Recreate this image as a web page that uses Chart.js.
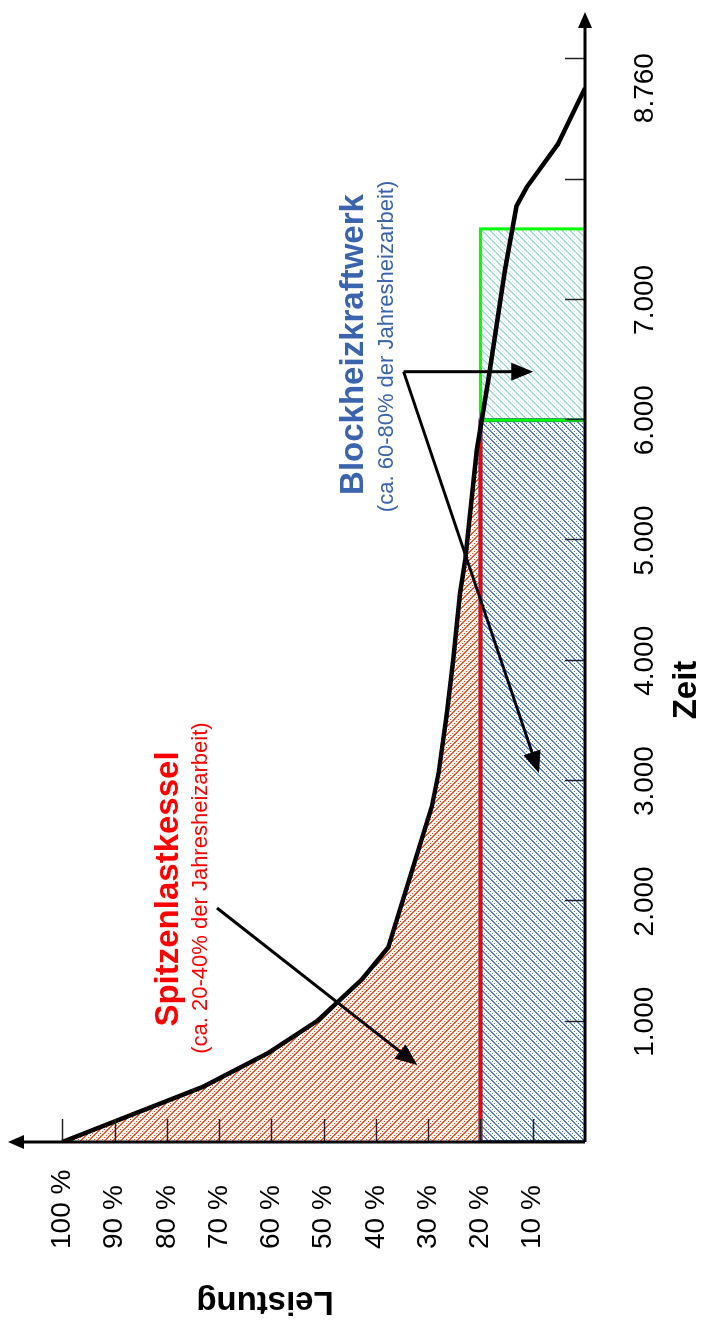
<!DOCTYPE html>
<html lang="de">
<head>
<meta charset="utf-8">
<title>Jahresdauerlinie</title>
<script src="https://cdn.jsdelivr.net/npm/chart.js@4.4.1/dist/chart.umd.min.js"></script>
<style>
  html, body { margin: 0; padding: 0; background: #fff; overflow: hidden; }
  body { width: 706px; height: 1326px; position: relative; }
  /* chart is drawn lying on its side, then turned upright */
  #wrap { position: absolute; left: 0; top: 0; width: 1326px; height: 706px;
          transform-origin: 0 0; transform: translate(0, 1326px) rotate(-90deg); }
</style>
</head>
<body>
<div id="wrap"><canvas id="chart" width="1326" height="706"></canvas></div>
<script>
// Jahresdauerlinie: Zeit (h) / Leistung (%)
const hours    = [0, 460, 740, 1010, 1350, 1620, 2790, 3070, 3570, 4010, 4560, 4840, 5750, 6330, 7250, 7780, 7940, 8300, 8760];
const leistung = [100, 73, 60.6, 51.1, 42.7, 37.6, 29.3, 28.0, 26.4, 25.2, 23.9, 22.9, 20.7, 18.5, 15.3, 13.1, 11.1, 5.1, 0];

// Grundlast-Bloecke
const grundlast = 20;        // % Leistung BHKW
const bhkwEnd = 6000;        // h (blau)
const bhkwExtraEnd = 7590;   // h (gruen)

// Achsen
const xTickLabels = [1000, 2000, 3000, 4000, 5000, 6000, 7000, 8760];
const xTickMarks  = [1000, 2000, 3000, 4000, 5000, 6000, 7000, 8000, 9000];
const yTickValues = [10, 20, 30, 40, 50, 60, 70, 80, 90, 100];

const FONT = '"Liberation Sans", Arial, sans-serif';
Chart.defaults.font.family = FONT;

const canvas = document.getElementById("chart");
const ctx0 = canvas.getContext("2d");

// diagonal hatch + dotted rows, like the office fill patterns
function hatch(stripe, dot, dir) {
  const n = 8;
  const c = document.createElement("canvas");
  c.width = c.height = n;
  const g = c.getContext("2d");
  g.fillStyle = "#fff";
  g.fillRect(0, 0, n, n);
  for (let y = 0; y < n; y++) {
    for (let x = 0; x < n; x++) {
      const d = (((dir > 0 ? x + y : x - y) % n) + n) % n;
      if (d < 2) { g.fillStyle = stripe; g.fillRect(x, y, 1, 1); }
      else if (d === 4 && x % 2 === 0) { g.fillStyle = dot; g.fillRect(x, y, 1, 1); }
    }
  }
  return ctx0.createPattern(c, "repeat");
}

const redFill   = hatch("#ff5428", "#ff3a14", -1);
const blueFill  = hatch("#5a84cc", "#4a76c0", 1);
const greenFill = hatch("#a3dacd", "#c4eae1", 1);

const fmt = (v) => String(v).replace(/\B(?=(\d{3})+(?!\d))/g, ".");

// annotations in data units
const notes = [
  { text: "Spitzenlastkessel", x: 2103, y: 77.8, font: "bold 33px " + FONT, color: "#ff0000" },
  { text: "(ca. 20-40% der Jahresheizarbeit)", x: 2111, y: 72.3, font: "22px " + FONT, color: "#ff0000" },
  { text: "Blockheizkraftwerk", x: 6629, y: 42.4, font: "bold 33px " + FONT, color: "#3a64ad" },
  { text: "(ca. 60-80% der Jahresheizarbeit)", x: 6613, y: 36.7, font: "22px " + FONT, color: "#3a64ad" }
];
const arrows = [
  { from: [1945, 70.4], to: [640, 32.1] },
  { from: [6403, 34.7], to: [6403, 9.9] },
  { from: [6403, 34.7], to: [3065, 8.8] }
];

function arrowHead(ctx, x1, y1, x2, y2, L, W) {
  const a = Math.atan2(y2 - y1, x2 - x1);
  const c = Math.cos(a), s = Math.sin(a);
  ctx.beginPath();
  ctx.moveTo(x1, y1);
  ctx.lineTo(x2 - c * L * 0.7, y2 - s * L * 0.7);
  ctx.stroke();
  ctx.beginPath();
  ctx.moveTo(x2, y2);
  ctx.lineTo(x2 - L * c + W * s, y2 - L * s - W * c);
  ctx.lineTo(x2 - L * c - W * s, y2 - L * s + W * c);
  ctx.closePath();
  ctx.fill();
}

const decor = {
  id: "decor",
  afterDatasetsDraw(chart) {
    const { ctx, chartArea: a, scales: { x, y } } = chart;
    ctx.save();

    // tick marks point into the plot
    ctx.strokeStyle = "#222";
    ctx.lineWidth = 1.5;
    xTickMarks.forEach((v) => {
      const px = Math.round(x.getPixelForValue(v)) + 0.5;
      ctx.beginPath(); ctx.moveTo(px, a.bottom); ctx.lineTo(px, a.bottom - 20); ctx.stroke();
    });
    yTickValues.forEach((v) => {
      const py = Math.round(y.getPixelForValue(v)) + 0.5;
      ctx.beginPath(); ctx.moveTo(a.left, py); ctx.lineTo(a.left + 23, py); ctx.stroke();
    });

    // axes with arrow heads
    ctx.strokeStyle = "#000";
    ctx.fillStyle = "#000";
    ctx.lineWidth = 3;
    arrowHead(ctx, a.left, a.bottom, a.right + 3, a.bottom, 16, 7);
    arrowHead(ctx, a.left, a.bottom, a.left, a.top - 2, 16, 7);

    // pointer arrows
    ctx.lineWidth = 3;
    arrows.forEach((r) => {
      arrowHead(ctx,
        x.getPixelForValue(r.from[0]), y.getPixelForValue(r.from[1]),
        x.getPixelForValue(r.to[0]), y.getPixelForValue(r.to[1]), 22, 9);
    });

    // labels
    ctx.textAlign = "center";
    ctx.textBaseline = "alphabetic";
    notes.forEach((n) => {
      ctx.font = n.font;
      ctx.fillStyle = n.color;
      ctx.fillText(n.text, x.getPixelForValue(n.x), y.getPixelForValue(n.y));
    });

    // axis titles
    ctx.fillStyle = "#000";
    ctx.font = "bold 33px " + FONT;
    ctx.fillText("Zeit", a.left + 452, a.bottom + 111);
    ctx.translate(34, 265);
    ctx.rotate(-Math.PI / 2);
    ctx.fillText("Leistung", 0, 0);

    ctx.restore();
  }
};

const pts = (xs, ys) => xs.map((v, i) => ({ x: v, y: ys[i] }));

new Chart(canvas, {
  type: "line",
  data: {
    datasets: [
      {
        label: "Jahresdauerlinie",
        data: pts(hours, leistung),
        borderColor: "#000",
        borderWidth: 4.5,
        borderJoinStyle: "round",
        pointRadius: 0,
        tension: 0,
        // Spitzenlast: area between curve and the 20 % line
        fill: { target: 1, above: redFill, below: "rgba(0,0,0,0)" }
      },
      {
        label: "Grundlastgrenze",
        data: pts([0, bhkwEnd], [grundlast, grundlast]),
        borderColor: "#ff0000",
        borderWidth: 3.5,
        pointRadius: 0,
        fill: false
      },
      {
        label: "BHKW Zusatz",
        data: pts([bhkwEnd, bhkwEnd, bhkwExtraEnd, bhkwExtraEnd], [0, grundlast, grundlast, 0]),
        borderColor: "#00ff00",
        borderWidth: 3,
        pointRadius: 0,
        fill: { target: "origin", above: greenFill }
      },
      {
        label: "BHKW",
        data: pts([0, 0, bhkwEnd, bhkwEnd], [0, grundlast, grundlast, 0]),
        borderColor: "#2f5597",
        borderWidth: 4,
        pointRadius: 0,
        fill: { target: "origin", above: blueFill }
      }
    ]
  },
  options: {
    responsive: false,
    animation: false,
    devicePixelRatio: 1,
    events: [],
    layout: { padding: { left: 77, top: 10, right: 15, bottom: 0 } },
    plugins: {
      legend: { display: false },
      tooltip: { enabled: false },
      filler: { drawTime: "beforeDatasetsDraw" }
    },
    scales: {
      x: {
        type: "linear",
        min: 0,
        max: 9368,
        grid: { display: false, drawTicks: false },
        border: { display: false },
        afterBuildTicks: (s) => { s.ticks = xTickLabels.map((v) => ({ value: v })); },
        afterFit: (s) => { s.height = 121; s.paddingLeft = 0; s.paddingRight = 0; },
        ticks: {
          autoSkip: false, maxRotation: 0, minRotation: 0,
          padding: 43, color: "#000", font: { size: 28 },
          callback: (v) => fmt(v)
        }
      },
      y: {
        type: "linear",
        min: 0,
        max: 110,
        grid: { display: false, drawTicks: false },
        border: { display: false },
        afterBuildTicks: (s) => { s.ticks = yTickValues.map((v) => ({ value: v })); },
        afterFit: (s) => { s.width = 107; s.paddingTop = 0; s.paddingBottom = 0; },
        ticks: {
          crossAlign: "far", color: "#000", font: { size: 28 },
          callback: (v) => v + " %"
        }
      }
    }
  },
  plugins: [decor]
});
</script>
</body>
</html>
